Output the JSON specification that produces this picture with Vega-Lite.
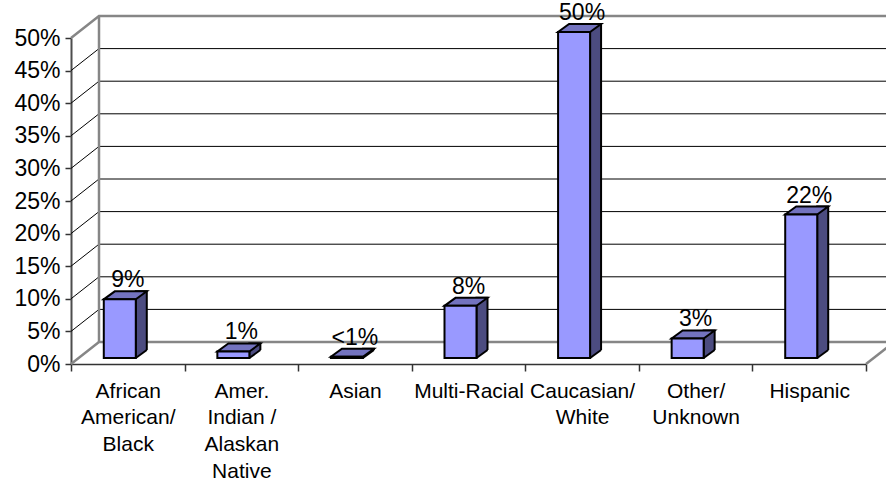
{
  "$schema": "https://vega.github.io/schema/vega-lite/v6.json",
  "width": 795,
  "height": 326,
  "autosize": "none",
  "padding": {"left": 71, "top": 38, "right": 20, "bottom": 118},
  "background": "white",
  "config": {
    "view": {"stroke": null},
    "font": "Liberation Sans",
    "axis": {"labelFont": "Liberation Sans", "labelColor": "black", "grid": false, "title": null,
             "labelOverlap": false, "labelBound": false, "labelLimit": 300},
    "axisX": {"tickBand": "extent", "domainColor": "#333333", "domainWidth": 1.5,
              "tickColor": "#333333", "tickWidth": 1.5, "tickSize": 7, "labelAngle": 0,
              "labelFontSize": 21, "labelLineHeight": 26.7, "labelPadding": 9},
    "axisY": {"domainColor": "#4d4d4d", "domainWidth": 2, "tickColor": "#333333", "tickWidth": 1.5,
              "tickSize": 6, "labelFontSize": 23, "labelPadding": 5, "format": ".0%"}
  },
  "datasets": {
    "bars": [
      {"race": "African American/Black", "value": 0.09, "label": "9%"},
      {"race": "Amer. Indian / Alaskan Native", "value": 0.01, "label": "1%"},
      {"race": "Asian", "value": 0.002, "label": "<1%"},
      {"race": "Multi-Racial", "value": 0.08, "label": "8%"},
      {"race": "Caucasian/White", "value": 0.5, "label": "50%"},
      {"race": "Other/Unknown", "value": 0.03, "label": "3%"},
      {"race": "Hispanic", "value": 0.22, "label": "22%"}
    ],
    "grid": [
      {"v": 0}, {"v": 0.05}, {"v": 0.1}, {"v": 0.15}, {"v": 0.2}, {"v": 0.25},
      {"v": 0.3}, {"v": 0.35}, {"v": 0.4}, {"v": 0.45}, {"v": 0.5}
    ]
  },
  "layer": [
    {
      "data": {"name": "grid"},
      "mark": {"type": "point", "shape": "M0,0L28,-22L815,-22", "size": 4, "filled": false, "opacity": 1,
               "stroke": {"expr": "datum.v == 0 || datum.v == 0.5 ? '#868686' : 'black'"},
               "strokeWidth": {"expr": "datum.v == 0 || datum.v == 0.5 ? 2.5 : 1"}},
      "encoding": {
        "x": {"datum": "African American/Black", "type": "nominal", "bandPosition": 0,
              "scale": {"domain": ["African American/Black", "Amer. Indian / Alaskan Native", "Asian", "Multi-Racial", "Caucasian/White", "Other/Unknown", "Hispanic"], "paddingInner": 0, "paddingOuter": 0},
              "axis": {"orient": "bottom",
                       "labelExpr": "datum.value == 'African American/Black' ? ['African','American/','Black'] : datum.value == 'Amer. Indian / Alaskan Native' ? ['Amer.','Indian /','Alaskan','Native'] : datum.value == 'Caucasian/White' ? ['Caucasian/','White'] : datum.value == 'Other/Unknown' ? ['Other/','Unknown'] : datum.label"}},
        "y": {"field": "v", "type": "quantitative",
              "scale": {"domain": [0, 0.5], "nice": false},
              "axis": {"orient": "left", "values": [0, 0.05, 0.1, 0.15, 0.2, 0.25, 0.3, 0.35, 0.4, 0.45, 0.5], "format": ".0%", "labelOverlap": false, "tickCount": 11}}
      }
    },
    {
      "data": {"name": "grid"},
      "transform": [{"filter": "datum.v == 0"}],
      "mark": {"type": "rule", "color": "#868686", "strokeWidth": 2.5, "xOffset": 28, "yOffset": -22, "y2Offset": -22},
      "encoding": {
        "x": {"datum": "African American/Black", "type": "nominal", "bandPosition": 0},
        "y": {"datum": 0, "type": "quantitative", "axis": {"values": [0, 0.05, 0.1, 0.15, 0.2, 0.25, 0.3, 0.35, 0.4, 0.45, 0.5], "format": ".0%", "labelOverlap": false, "tickCount": 11}},
        "y2": {"datum": 0.5}
      }
    },
    {
      "data": {"name": "grid"},
      "transform": [{"filter": "datum.v == 0"}],
      "mark": {"type": "point", "shape": "M0,0L28,-22", "size": 4, "filled": false, "opacity": 1, "stroke": "#868686", "strokeWidth": 2.5},
      "encoding": {
        "x": {"datum": "Hispanic", "type": "nominal", "bandPosition": 1},
        "y": {"datum": 0, "type": "quantitative", "axis": {"values": [0, 0.05, 0.1, 0.15, 0.2, 0.25, 0.3, 0.35, 0.4, 0.45, 0.5], "format": ".0%", "labelOverlap": false, "tickCount": 11}}
      }
    },
    {
      "data": {"name": "bars"},
      "mark": {"type": "bar", "width": 11, "xOffset": 13.5, "yOffset": -14, "y2Offset": -6,
               "fill": "#4C4C80", "stroke": "black", "strokeWidth": 2},
      "encoding": {
        "x": {"field": "race", "type": "nominal"},
        "y": {"field": "value", "type": "quantitative", "stack": null, "axis": {"values": [0, 0.05, 0.1, 0.15, 0.2, 0.25, 0.3, 0.35, 0.4, 0.45, 0.5], "format": ".0%", "labelOverlap": false, "tickCount": 11}},
        "y2": {"datum": 0}
      }
    },
    {
      "data": {"name": "bars"},
      "mark": {"type": "point", "shape": "M8,0L19,-8L23,-8L23,4L8,4Z", "size": 4, "filled": true, "opacity": 1,
               "fill": "white", "strokeWidth": 0, "yOffset": -6},
      "encoding": {
        "x": {"field": "race", "type": "nominal"},
        "y": {"datum": 0, "type": "quantitative", "axis": {"values": [0, 0.05, 0.1, 0.15, 0.2, 0.25, 0.3, 0.35, 0.4, 0.45, 0.5], "format": ".0%", "labelOverlap": false, "tickCount": 11}}
      }
    },
    {
      "data": {"name": "bars"},
      "mark": {"type": "point", "shape": "M8,0L19,-8", "size": 4, "filled": false, "opacity": 1,
               "stroke": "black", "strokeWidth": 2, "yOffset": -6},
      "encoding": {
        "x": {"field": "race", "type": "nominal"},
        "y": {"datum": 0, "type": "quantitative", "axis": {"values": [0, 0.05, 0.1, 0.15, 0.2, 0.25, 0.3, 0.35, 0.4, 0.45, 0.5], "format": ".0%", "labelOverlap": false, "tickCount": 11}}
      }
    },
    {
      "data": {"name": "bars"},
      "mark": {"type": "point", "shape": "M-24,0L8,0L19,-8L-13,-8Z", "size": 4, "filled": true, "opacity": 1,
               "fill": "#7373BF", "stroke": "black", "strokeWidth": 2, "yOffset": -6},
      "encoding": {
        "x": {"field": "race", "type": "nominal"},
        "y": {"field": "value", "type": "quantitative", "axis": {"values": [0, 0.05, 0.1, 0.15, 0.2, 0.25, 0.3, 0.35, 0.4, 0.45, 0.5], "format": ".0%", "labelOverlap": false, "tickCount": 11}}
      }
    },
    {
      "data": {"name": "bars"},
      "mark": {"type": "bar", "width": 32, "xOffset": -8, "yOffset": -6, "y2Offset": -6,
               "fill": "#9999FF", "stroke": "black", "strokeWidth": 2},
      "encoding": {
        "x": {"field": "race", "type": "nominal"},
        "y": {"field": "value", "type": "quantitative", "stack": null, "axis": {"values": [0, 0.05, 0.1, 0.15, 0.2, 0.25, 0.3, 0.35, 0.4, 0.45, 0.5], "format": ".0%", "labelOverlap": false, "tickCount": 11}},
        "y2": {"datum": 0}
      }
    },
    {
      "data": {"name": "bars"},
      "mark": {"type": "text", "fontSize": 23, "baseline": "alphabetic", "align": "center", "yOffset": -18, "color": "black"},
      "encoding": {
        "x": {"field": "race", "type": "nominal"},
        "y": {"field": "value", "type": "quantitative", "axis": {"values": [0, 0.05, 0.1, 0.15, 0.2, 0.25, 0.3, 0.35, 0.4, 0.45, 0.5], "format": ".0%", "labelOverlap": false, "tickCount": 11}},
        "text": {"field": "label"}
      }
    }
  ]
}
